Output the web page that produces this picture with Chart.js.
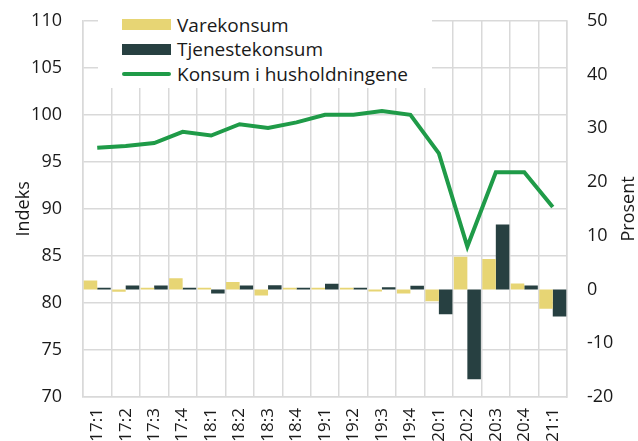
<!DOCTYPE html>
<html lang="no">
<head>
<meta charset="utf-8">
<title>Konsum i husholdningene</title>
<script src="https://cdn.jsdelivr.net/npm/chart.js@4/dist/chart.umd.min.js"></script>
<style>
  html, body { margin: 0; padding: 0; background: #fff; }
  #wrap { position: relative; width: 638px; height: 441px; overflow: hidden; }
  #chart { position: absolute; left: 0; top: -11px; }
  #legend {
    position: absolute; left: 98px; top: 0; width: 334px; height: 88px;
    background: #fff; font-family: "Open Sans", sans-serif; font-size: 19px; color: #1a1a1a;
  }
  #legend .item { position: absolute; left: 24px; height: 25px; display: flex; align-items: center; }
  #legend .swatch { width: 49px; margin-right: 6px; }
</style>
</head>
<body>
<div id="wrap">
  <canvas id="chart" width="638" height="461"></canvas>
  <div id="legend"></div>
</div>
<script>
// Kvartaler
const categories = ['17:1','17:2','17:3','17:4','18:1','18:2','18:3','18:4',
                    '19:1','19:2','19:3','19:4','20:1','20:2','20:3','20:4','21:1'];

// Endring fra forrige kvartal, prosent (høyre akse)
const varekonsum     = [1.7, -0.4, 0.35, 2.1, 0.35, 1.4, -1.1, 0.35, 0.35, 0.35, -0.35, -0.75, -2.2, 6.1, 5.7, 1.1, -3.6];
const tjenestekonsum = [0.35, 0.75, 0.75, 0.35, -0.75, 0.75, 0.8, 0.35, 1.05, 0.35, 0.4, 0.7, -4.6, -16.7, 12.1, 0.75, -5.0];

// Volumindeks (venstre akse)
const konsumIndeks = [96.5, 96.7, 97.0, 98.2, 97.8, 99.0, 98.6, 99.2, 100.0, 100.0, 100.4, 100.0, 95.9, 86.0, 93.9, 93.9, 90.2];

// Akseinndeling
const indeksTicks  = { min: 70, max: 110, step: 5 };
const prosentTicks = { min: -20, max: 50, step: 10 };

const FONT = 'Open Sans';
const TEXT = '#1a1a1a';
const GRID = '#d9d9d9';

// Tittel på høyre akse, lest nedenfra og opp
const rightTitle = {
  id: 'rightTitle',
  afterDraw(chart) {
    const { ctx, chartArea } = chart;
    ctx.save();
    ctx.font = '18px "' + FONT + '"';
    ctx.fillStyle = TEXT;
    ctx.textAlign = 'center';
    ctx.textBaseline = 'middle';
    ctx.translate(629, (chartArea.top + chartArea.bottom) / 2);
    ctx.rotate(-Math.PI / 2);
    ctx.fillText('Prosent', 0, 0);
    ctx.restore();
  }
};

// Tegnforklaring som HTML over plottet
const htmlLegend = {
  id: 'htmlLegend',
  afterUpdate(chart) {
    const box = document.getElementById('legend');
    box.innerHTML = '';
    chart.data.datasets.forEach((ds, i) => {
      const item = document.createElement('div');
      item.className = 'item';
      item.style.top = (12 + i * 24.7) + 'px';
      const sw = document.createElement('span');
      sw.className = 'swatch';
      sw.style.background = ds.type === 'line' ? ds.borderColor : ds.backgroundColor;
      sw.style.height = ds.type === 'line' ? '4px' : '11px';
      if (ds.type === 'line') sw.style.borderRadius = '2px';
      const label = document.createElement('span');
      label.textContent = ds.label;
      item.appendChild(sw);
      item.appendChild(label);
      box.appendChild(item);
    });
  }
};

new Chart(document.getElementById('chart'), {
  data: {
    labels: categories,
    datasets: [
      { type: 'bar', label: 'Varekonsum', data: varekonsum, yAxisID: 'y1',
        backgroundColor: '#e7d574', order: 1,
        categoryPercentage: 0.95, barPercentage: 1.0 },
      { type: 'bar', label: 'Tjenestekonsum', data: tjenestekonsum, yAxisID: 'y1',
        backgroundColor: '#274041', order: 2,
        categoryPercentage: 0.95, barPercentage: 1.0 },
      { type: 'line', label: 'Konsum i husholdningene', data: konsumIndeks, yAxisID: 'y',
        borderColor: '#1f9b48', backgroundColor: '#1f9b48', borderWidth: 4,
        pointRadius: 0, tension: 0, order: 0 }
    ]
  },
  options: {
    responsive: false,
    animation: false,
    layout: { padding: { top: 0, left: 0, right: 0, bottom: 0 } },
    plugins: { legend: { display: false }, tooltip: { enabled: false } },
    scales: {
      x: {
        offset: true,
        grid: { color: GRID, lineWidth: 1.5, drawTicks: false, offset: true },
        border: { color: GRID, width: 1.5 },
        ticks: { color: TEXT, font: { family: FONT, size: 17 }, padding: 11,
                 minRotation: 90, maxRotation: 90, autoSkip: false },
        afterFit(s) { s.height = 53; }
      },
      y: {
        position: 'left',
        min: indeksTicks.min, max: indeksTicks.max,
        grid: { color: GRID, lineWidth: 1.5, drawTicks: false },
        border: { color: GRID, width: 1.5 },
        ticks: { stepSize: indeksTicks.step, color: TEXT, font: { family: FONT, size: 18 }, padding: 21 },
        title: { display: true, text: 'Indeks', color: TEXT, font: { family: FONT, size: 18 },
                 padding: { top: 13, bottom: 0 } },
        afterFit(s) { s.width = 83; }
      },
      y1: {
        position: 'right',
        min: prosentTicks.min, max: prosentTicks.max,
        grid: { display: false, drawTicks: false },
        border: { color: GRID, width: 1.5 },
        ticks: { stepSize: prosentTicks.step, color: TEXT, font: { family: FONT, size: 18 }, padding: 20 },
        afterFit(s) { s.width = 71; }
      }
    }
  },
  plugins: [rightTitle, htmlLegend]
});
</script>
</body>
</html>
